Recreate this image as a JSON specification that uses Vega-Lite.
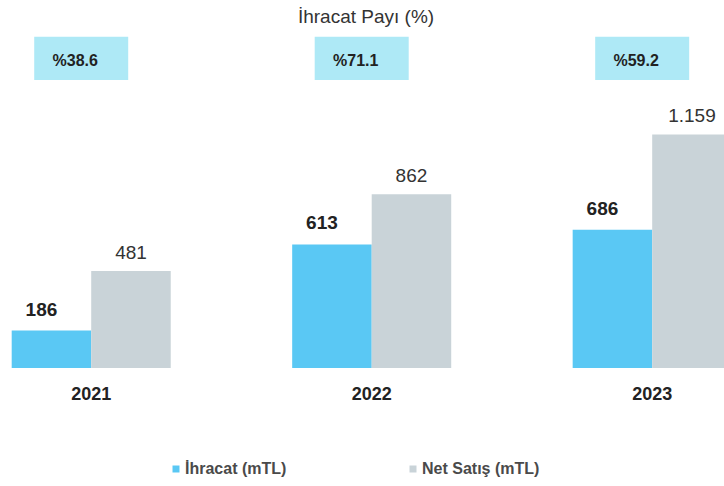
{
  "$schema": "https://vega.github.io/schema/vega-lite/v6.json",
  "width": 724,
  "height": 338,
  "autosize": {"type": "none"},
  "padding": {"top": 30, "left": 0, "right": 0, "bottom": 118},
  "background": "white",
  "config": {
    "view": {"stroke": null},
    "font": "Liberation Sans"
  },
  "title": {
    "text": "İhracat Payı (%)",
    "fontSize": 19,
    "fontWeight": "normal",
    "color": "#333333",
    "anchor": "middle",
    "frame": "group",
    "offset": 3,
    "dx": 4
  },
  "datasets": {
    "bars": [
      {"year": "2021", "series": "İhracat (mTL)", "value": 186, "label": "186"},
      {"year": "2021", "series": "Net Satış (mTL)", "value": 481, "label": "481"},
      {"year": "2022", "series": "İhracat (mTL)", "value": 613, "label": "613"},
      {"year": "2022", "series": "Net Satış (mTL)", "value": 862, "label": "862"},
      {"year": "2023", "series": "İhracat (mTL)", "value": 686, "label": "686"},
      {"year": "2023", "series": "Net Satış (mTL)", "value": 1159, "label": "1.159"}
    ],
    "shares": [
      {"year": "2021", "share": "%38.6"},
      {"year": "2022", "share": "%71.1"},
      {"year": "2023", "share": "%59.2"}
    ]
  },
  "encoding": {
    "x": {
      "field": "year",
      "type": "nominal",
      "scale": {"range": [0, 743.4], "paddingInner": 0.433, "paddingOuter": 0.0417},
      "axis": {
        "title": null,
        "ticks": false,
        "domain": false,
        "labelAngle": 0,
        "labelFontSize": 18,
        "labelFontWeight": "bold",
        "labelColor": "#222222",
        "labelPadding": 17
      }
    }
  },
  "layer": [
    {
      "data": {"name": "shares"},
      "mark": {"type": "bar", "width": 94, "xOffset": -10, "color": "#aee9f6"},
      "encoding": {
        "y": {"datum": 1643, "type": "quantitative", "scale": {"domain": [0, 1677], "nice": false}, "axis": null},
        "y2": {"datum": 1429}
      }
    },
    {
      "data": {"name": "shares"},
      "mark": {"type": "text", "fontSize": 16, "fontWeight": "bold", "color": "#222222", "xOffset": -16, "baseline": "middle"},
      "encoding": {
        "y": {"datum": 1521, "type": "quantitative"},
        "text": {"field": "share"}
      }
    },
    {
      "data": {"name": "bars"},
      "mark": {"type": "bar", "clip": true},
      "encoding": {
        "xOffset": {"field": "series", "type": "nominal", "scale": {"domain": ["İhracat (mTL)", "Net Satış (mTL)"], "paddingInner": 0, "paddingOuter": 0}},
        "y": {"field": "value", "type": "quantitative"},
        "color": {
          "field": "series",
          "type": "nominal",
          "scale": {"domain": ["İhracat (mTL)", "Net Satış (mTL)"], "range": ["#5ac8f4", "#c9d3d8"]},
          "legend": {
            "title": null,
            "orient": "none",
            "direction": "horizontal",
            "legendX": 168,
            "legendY": 431,
            "symbolType": "square",
            "symbolSize": 49,
            "symbolStrokeWidth": 0,
            "labelFontSize": 16,
            "labelFontWeight": "bold",
            "labelColor": "#4a4a4a",
            "labelOffset": 1,
            "columnPadding": 118,
            "padding": 0
          }
        }
      }
    },
    {
      "data": {"name": "bars"},
      "transform": [{"filter": "datum.series === 'İhracat (mTL)'"}],
      "mark": {"type": "text", "fontSize": 19, "fontWeight": "bold", "color": "#222222", "baseline": "alphabetic", "dy": -15, "dx": -10},
      "encoding": {
        "xOffset": {"field": "series", "type": "nominal"},
        "y": {"field": "value", "type": "quantitative"},
        "text": {"field": "label"}
      }
    },
    {
      "data": {"name": "bars"},
      "transform": [{"filter": "datum.series === 'Net Satış (mTL)'"}],
      "mark": {"type": "text", "fontSize": 19, "fontWeight": "normal", "color": "#333333", "baseline": "alphabetic", "dy": -12},
      "encoding": {
        "xOffset": {"field": "series", "type": "nominal"},
        "y": {"field": "value", "type": "quantitative"},
        "text": {"field": "label"}
      }
    }
  ]
}
